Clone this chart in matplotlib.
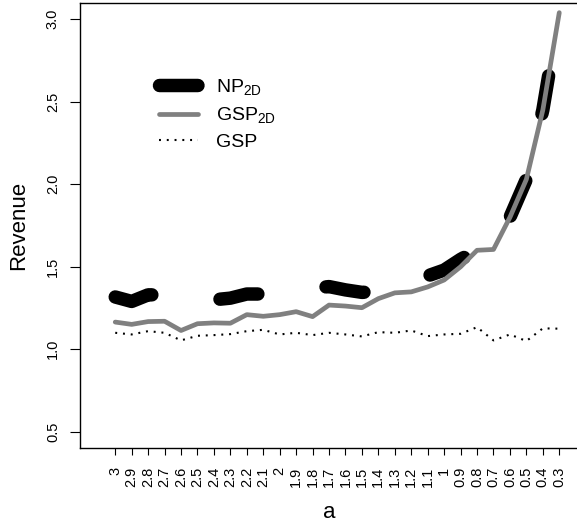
import matplotlib
matplotlib.use('Agg')
import matplotlib.pyplot as plt

# categories on the x axis (a decreasing from 3 to 0.3)
a_labels = ['3', '2.9', '2.8', '2.7', '2.6', '2.5', '2.4', '2.3', '2.2', '2.1',
            '2', '1.9', '1.8', '1.7', '1.6', '1.5', '1.4', '1.3', '1.2', '1.1',
            '1', '0.9', '0.8', '0.7', '0.6', '0.5', '0.4', '0.3']

# revenue series
np2d = [1.317, 1.29, 1.33, 1.33, 1.30, 1.30, 1.30, 1.31, 1.335, 1.335,
        1.33, 1.35, 1.37, 1.38, 1.36, 1.345, 1.35, 1.37, 1.40, 1.445,
        1.48, 1.545, 1.60, 1.605, 1.80, 2.03, 2.45, 3.04]
gsp2d = [1.165, 1.151, 1.168, 1.17, 1.114, 1.155, 1.16, 1.158, 1.21, 1.20,
         1.21, 1.228, 1.198, 1.268, 1.262, 1.252, 1.307, 1.342, 1.348, 1.378,
         1.42, 1.50, 1.60, 1.605, 1.80, 2.03, 2.45, 3.04]
gsp = [1.10, 1.09, 1.11, 1.10, 1.054, 1.082, 1.086, 1.092, 1.11, 1.118,
       1.09, 1.10, 1.086, 1.10, 1.09, 1.078, 1.104, 1.10, 1.114, 1.08,
       1.09, 1.094, 1.134, 1.054, 1.09, 1.05, 1.127, 1.125]

y_ticks = [0.5, 1.0, 1.5, 2.0, 2.5, 3.0]

plt.rcParams['font.family'] = ['Liberation Sans', 'DejaVu Sans']
plt.rcParams['mathtext.default'] = 'regular'
plt.rcParams['lines.scale_dashes'] = False

fig = plt.figure(figsize=(5.77, 5.27), dpi=100)
ax = fig.add_axes([0.1393, 0.1493, 0.8619, 0.8455])

pos = list(range(1, len(a_labels) + 1))

ax.plot(pos, np2d, color='black', lw=9.7, linestyle=(0, (27.7, 49.6)),
        dash_capstyle='round', dash_joinstyle='round', label=r'NP$_{2D}$')
ax.plot(pos, gsp2d, color='#808080', lw=3.4, solid_capstyle='round',
        solid_joinstyle='round', label=r'GSP$_{2D}$')
ax.plot(pos, gsp, color='black', lw=1.5, linestyle=(0, (1.4, 4.2)),
        label='GSP')

ax.set_xlim(-1.12, 29.12)
ax.set_ylim(0.4, 3.1)

ax.set_xticks(pos)
ax.set_xticklabels(a_labels, rotation=90, fontsize=10.5)
ax.set_yticks(y_ticks)
ax.set_yticklabels(['%.1f' % v for v in y_ticks], rotation=90, va='center',
                   fontsize=10.5)
ax.tick_params(axis='x', length=5.3, width=0.8, pad=7.9)
ax.tick_params(axis='y', length=7.0, width=0.8, pad=7.7)
for s in ax.spines.values():
    s.set_linewidth(1.0)

ax.set_xlabel('a', fontsize=16)
ax.xaxis.set_label_coords(0.5, -0.143)
ax.xaxis.label.set_va('center')
ax.set_ylabel('Revenue', fontsize=16)
ax.yaxis.set_label_coords(-0.1235, 0.5)
ax.yaxis.label.set_va('center')

ax.legend(loc='upper left', bbox_to_anchor=(0.159, 0.833), frameon=False,
          fontsize=14, handlelength=1.97, handletextpad=0.95,
          labelspacing=0.42, borderpad=0, borderaxespad=0)

fig.savefig('out.png', dpi=100)
